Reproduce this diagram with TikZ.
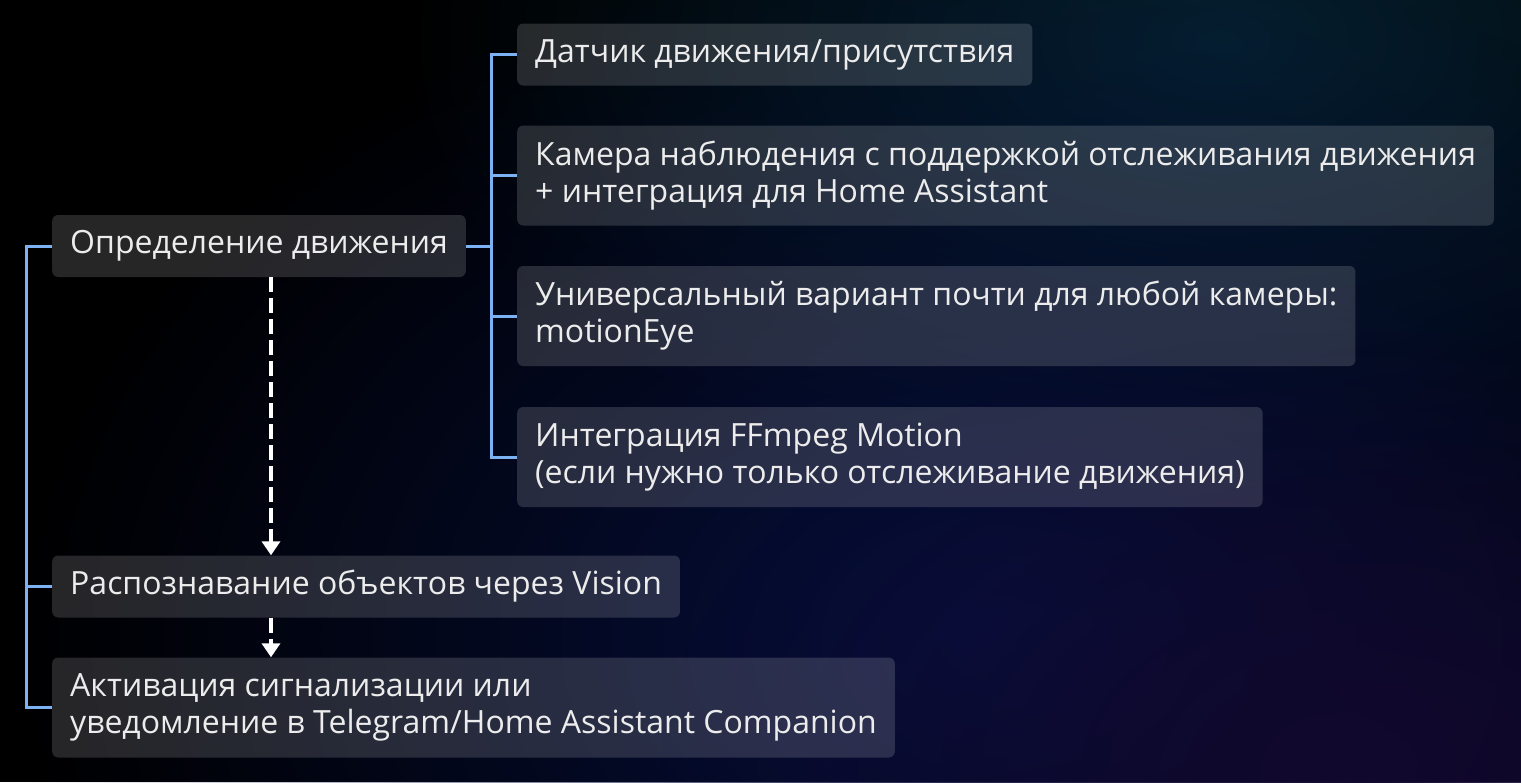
\documentclass[tikz,border=0pt]{standalone}
\usepackage{fontspec}
\setmainfont{Open Sans}
\usetikzlibrary{arrows.meta,fadings}
\definecolor{brc}{HTML}{7CB2F4}
\definecolor{txt}{HTML}{ECECEC}
\definecolor{navyb}{HTML}{06103E}
\definecolor{tealb}{HTML}{05202F}
\definecolor{purpb}{HTML}{12082E}
\tikzfading[name=blob, inner color=transparent!0, outer color=transparent!100]
\tikzset{
  box/.style={anchor=west, fill=white, fill opacity=0.15, text opacity=1, text=txt,
    rounded corners=6pt, inner xsep=18pt, inner ysep=0pt, align=left,
    font=\fontsize{32}{37}\selectfont},
  one/.style={minimum height=62pt},
  two/.style={minimum height=100pt},
  br/.style={draw=brc, line width=3pt},
  dar/.style={draw=white, line width=3.8pt, dash pattern=on 15pt off 6pt,
    -{Triangle[width=18pt,length=14pt]}}
}
\begin{document}
\begin{tikzpicture}[x=1pt,y=-1pt]
\fill[black] (0,0) rectangle (1521,782);
\begin{scope}
\clip (0,0) rectangle (1521,782);
\fill[tealb, path fading=blob] (1220,40) ellipse (820 and 480);
\fill[navyb, path fading=blob] (1000,640) ellipse (1000 and 700);
\fill[purpb, path fading=blob] (1360,770) ellipse (700 and 440);
\end{scope}
\useasboundingbox (0,0) rectangle (1521,782);
\coordinate (L) at (26,0);
\coordinate (R) at (491,0);
\coordinate (ax) at (271,0);
\node[box,one] (det) at (52,246) {Определение движения};
\node[box,one] (d1) at (517,54.5) {Датчик движения/присутствия};
\node[box,two] (d2) at (517,175.5) {Камера наблюдения с поддержкой отслеживания движения\\+ интеграция для Home Assistant};
\node[box,two] (d3) at (517,316) {Универсальный вариант почти для любой камеры:\\motionEye};
\node[box,two] (d4) at (517,457) {Интеграция FFmpeg Motion\\(если нужно только отслеживание движения)};
\node[box,one] (rec) at (52,586.5) {Распознавание объектов через Vision};
\node[box,two] (act) at (52,707.5) {Активация сигнализации или\\уведомление в Telegram/Home Assistant Companion};
% left bracket
\draw[br] (det.west) -- (det.west -| L) -- (act.west -| L) -- (act.west);
\draw[br] (rec.west -| L) -- (rec.west);
% right bracket
\draw[br] (det.east) -- (det.east -| R);
\draw[br] (d1.west) -- (d1.west -| R) -- (d4.west -| R) -- (d4.west);
\draw[br] (d2.west -| R) -- (d2.west);
\draw[br] (d3.west -| R) -- (d3.west);
% dashed arrows
\draw[dar] (det.south -| ax) -- (rec.north -| ax);
\draw[dar] (rec.south -| ax) -- (act.north -| ax);
\end{tikzpicture}
\end{document}
